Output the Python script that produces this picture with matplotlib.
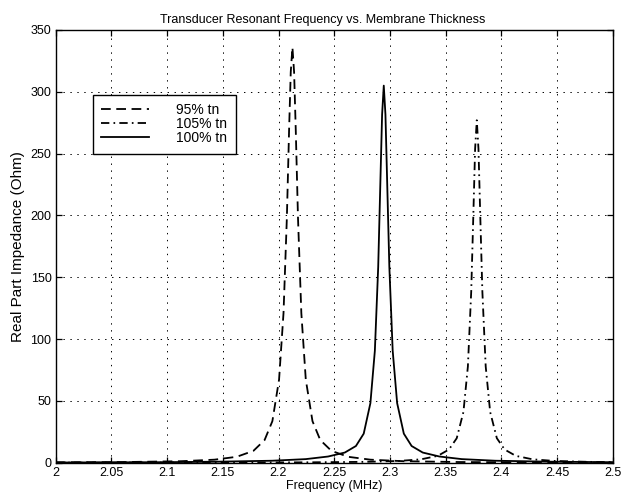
"""
Transducer resonant frequency vs. membrane thickness
"""

import matplotlib
matplotlib.use("Agg")
import matplotlib.pyplot as plt

# 95% tn (dashed)
freq_95 = [2.0, 2.0625, 2.1125, 2.1425, 2.1625, 2.1775, 2.1875, 2.1945, 2.2005, 2.2045,
           2.2075, 2.2095, 2.211, 2.2125, 2.214, 2.2155, 2.2175, 2.2205, 2.2245, 2.2305,
           2.2375, 2.2475, 2.2625, 2.2825, 2.3125, 2.3625, 2.4125, 2.5]
imp_95 = [0.27, 0.54, 1.2, 2.45, 4.77, 9.6, 18.3, 33.6, 67.2, 121,
          198, 269, 316, 336, 316, 269, 198, 121, 67.2, 33.6,
          18.3, 9.6, 4.77, 2.45, 1.2, 0.54, 0.30, 0.15]

# 105% tn (dash-dot)
freq_105 = [2.0, 2.178, 2.228, 2.278, 2.308, 2.328, 2.343, 2.353, 2.36, 2.366,
            2.37, 2.373, 2.375, 2.3765, 2.378, 2.3795, 2.381, 2.383, 2.386, 2.39,
            2.396, 2.403, 2.413, 2.428, 2.448, 2.478, 2.5]
imp_105 = [0.05, 0.17, 0.31, 0.69, 1.41, 2.74, 5.54, 10.65, 19.8, 41.0,
           77.8, 138.5, 203.7, 254, 277, 254, 203.7, 138.5, 77.8, 41.0,
           19.8, 10.65, 5.54, 2.74, 1.41, 0.69, 0.46]

# 100% tn (solid)
freq_100 = [2.0, 2.0945, 2.1445, 2.1945, 2.2245, 2.2445, 2.2595, 2.2695, 2.2765, 2.2825,
            2.2865, 2.2895, 2.2915, 2.293, 2.2945, 2.296, 2.2975, 2.2995, 2.3025, 2.3065,
            2.3125, 2.3195, 2.3295, 2.3445, 2.3645, 2.3945, 2.4445, 2.5]
imp_100 = [0.15, 0.4, 0.8, 1.6, 2.9, 5.0, 8.2, 13.5, 23.5, 48.2,
           90.6, 158.4, 228.8, 281.6, 305, 281.6, 228.8, 158.4, 90.6, 48.2,
           23.5, 13.5, 8.2, 5.0, 2.9, 1.6, 0.8, 0.4]

labels = ["95% tn", "105% tn", "100% tn"]
xticks = [2, 2.05, 2.1, 2.15, 2.2, 2.25, 2.3, 2.35, 2.4, 2.45, 2.5]
xticklabels = ["2", "2.05", "2.1", "2.15", "2.2", "2.25", "2.3", "2.35", "2.4", "2.45", "2.5"]
yticks = [0, 50, 100, 150, 200, 250, 300, 350]

plt.rcParams['font.family'] = ['Liberation Sans', 'DejaVu Sans']
plt.rcParams['lines.scale_dashes'] = False

fig = plt.figure(figsize=(6.26, 4.95), dpi=100)
ax = fig.add_axes([55.7/626, 1 - 462.7/495, 557/626, 432.7/495])

ax.plot(freq_95, imp_95, color='black', lw=1.3, linestyle=(0, (7, 4)), label=labels[0])
ax.plot(freq_105, imp_105, color='black', lw=1.3, linestyle=(0, (6, 3, 1.2, 3)), label=labels[1])
ax.plot(freq_100, imp_100, color='black', lw=1.3, linestyle='-', label=labels[2])

ax.set_xlim(2, 2.5)
ax.set_ylim(0, 350)
ax.set_xticks(xticks)
ax.set_xticklabels(xticklabels)
ax.set_yticks(yticks)
ax.tick_params(direction='in', top=True, right=True, length=4, width=0.9, labelsize=9, pad=3)
ax.grid(True, color='black', linestyle=(0, (1, 4)), linewidth=0.7)
for s in ax.spines.values():
    s.set_linewidth(1.0)

ax.set_title("Transducer Resonant Frequency vs. Membrane Thickness", fontsize=9,
             x=0.48, pad=5)
ax.set_xlabel("Frequency (MHz)", fontsize=9, labelpad=1)
ax.set_ylabel("Real Part Impedance (Ohm)", fontsize=11, labelpad=4)

leg = ax.legend(loc='upper left', bbox_to_anchor=((93 - 55.7) / 557, (462.7 - 95) / 432.7),
                borderaxespad=0, fancybox=False, edgecolor='black', framealpha=1,
                fontsize=10, handlelength=3.4, handletextpad=2.0, labelspacing=0.0,
                borderpad=0.6)
leg.get_frame().set_linewidth(1.0)

fig.savefig("out.png", dpi=100)
